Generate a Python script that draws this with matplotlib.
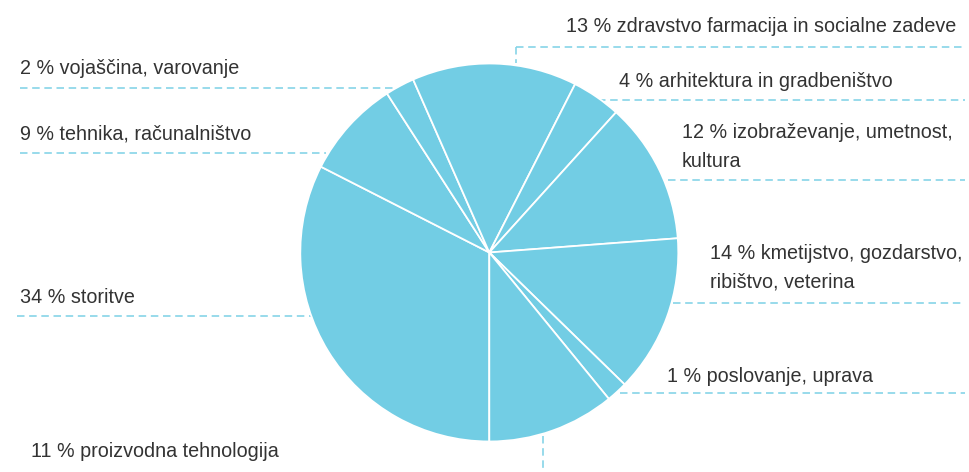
import matplotlib
matplotlib.use("Agg")
import matplotlib.pyplot as plt

# ---- data (clockwise from 6 o'clock) ----
categories = [
    "storitve",
    "tehnika, računalništvo",
    "vojaščina, varovanje",
    "zdravstvo farmacija in socialne zadeve",
    "arhitektura in gradbeništvo",
    "izobraževanje, umetnost,\nkultura",
    "kmetijstvo, gozdarstvo,\nribištvo, veterina",
    "poslovanje, uprava",
    "proizvodna tehnologija",
]
label_pct = [34, 9, 2, 13, 4, 12, 14, 1, 11]
shares = [32.5, 8.4, 2.5, 14.1, 4.2, 12.1, 13.5, 1.8, 10.9]

# ---- layout (pixel coords, y from top) ----
W, H = 970, 472
text_pos = [(20, 302.7), (20, 74.3 + 65.7), (20, 74.3), (566, 31.7), (619, 87.3),
            (682, 138.3), (710, 259), (667, 381.7), (31, 456.7)]
leaders = [
    [((17, 315.5), (311, 315.5))],
    [((20, 153.3), (326, 153.3))],
    [((20, 87.7), (401, 87.7))],
    [((516, 46.7), (965, 46.7)), ((516, 46.7), (516, 63))],
    [((598, 100), (965, 100))],
    [((668, 180), (965, 180))],
    [((673, 302.7), (965, 302.7))],
    [((620, 393.3), (965, 393.3))],
    [((543.3, 436), (543.3, 472))],
]

PIE_COLOR = "#72cde4"
LINE_COLOR = "#86d4e8"
TEXT_COLOR = "#333333"

fig = plt.figure(figsize=(W / 100, H / 100), dpi=100)
ax = fig.add_axes([0, 0, 1, 1])

def Y(y):
    return H - y

ax.pie(shares, center=(489.3, Y(252.5)), radius=189, startangle=270,
       counterclock=False, colors=[PIE_COLOR] * len(shares),
       wedgeprops=dict(edgecolor="white", linewidth=1.3))

for segs in leaders:
    for (x0, y0), (x1, y1) in segs:
        ax.plot([x0, x1], [Y(y0), Y(y1)], color=LINE_COLOR, lw=1.2,
                linestyle=(0, (4.5, 2.8)), solid_capstyle="butt", zorder=0)

for cat, pct, (x, y) in zip(categories, label_pct, text_pos):
    lines = f"{pct} % {cat}".split("\n")
    for i, ln in enumerate(lines):
        ax.text(x, Y(y + i * 28.4), ln, fontsize=14.2, family="Liberation Sans",
                color=TEXT_COLOR, ha="left", va="baseline")

ax.set_xlim(0, W)
ax.set_ylim(0, H)
ax.set_aspect("auto")
ax.axis("off")
fig.savefig("out.png", dpi=100)
